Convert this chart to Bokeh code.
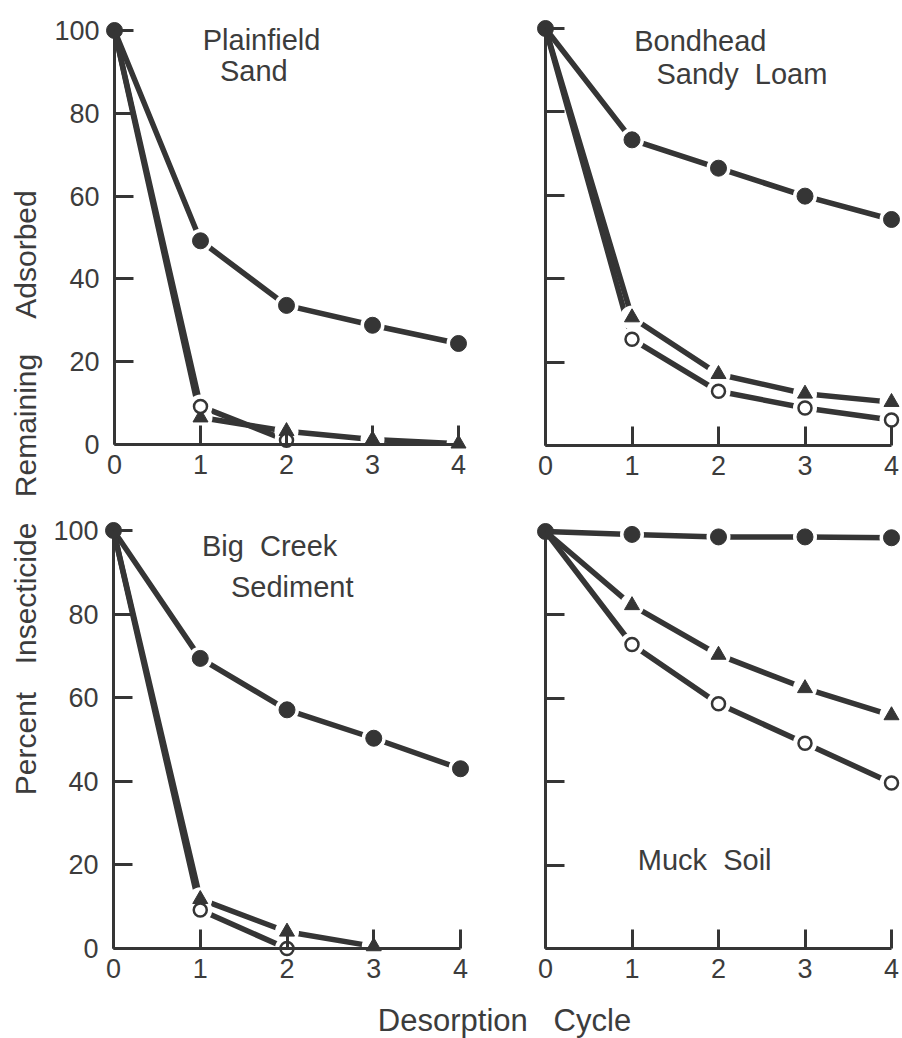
import math
from bokeh.plotting import figure
from bokeh.models import Range1d, FixedTicker, LinearAxis
from bokeh.core.properties import value
from bokeh.embed import file_html
from bokeh.resources import INLINE

NAN = float("nan")

# ---------------- data ----------------
cycles = [0, 1, 2, 3, 4]
x_tick_labels = ["0", "1", "2", "3", "4"]
y_ticks = [0, 20, 40, 60, 80, 100]
y_tick_labels = ["0", "20", "40", "60", "80", "100"]

plainfield_filled = [100, 49.2, 33.6, 28.8, 24.4]
plainfield_triangle = [100, 6.5, 3.2, 1.2, 0.2]
plainfield_open = [100, 9.2, 1.0, NAN, NAN]

bondhead_filled = [100, 73.3, 66.5, 59.8, 54.2]
bondhead_triangle = [100, 30.7, 17.1, 12.4, 10.4]
bondhead_open = [100, 25.5, 13.0, 9.0, 6.1]

bigcreek_filled = [100, 69.4, 57.1, 50.3, 43.0]
bigcreek_triangle = [100, 11.8, 4.0, 0.5, NAN]
bigcreek_open = [100, 9.2, 0.0, NAN, NAN]

muck_filled = [100, 99.3, 98.7, 98.7, 98.5]
muck_triangle = [100, 82.3, 70.4, 62.4, 55.9]
muck_open = [100, 72.9, 58.7, 49.2, 39.7]

y_title_words = ["Adsorbed", "Remaining", "Insecticide", "Percent"]
x_title = "Desorption\u00a0\u00a0\u00a0Cycle"

INK = "#353535"
TXT = "#3c3c3c"
FONT = value("Liberation Sans")

W, H = 902, 1038

# one canvas; every panel gets its own pair of ranges
p = figure(width=W, height=H, x_range=Range1d(0, W), y_range=Range1d(0, H),
           x_axis_type=None, y_axis_type=None, toolbar_location=None,
           output_backend="svg", title=None,
           min_border_left=0, min_border_right=0, min_border_top=0, min_border_bottom=0)
p.grid.visible = False
p.outline_line_color = None
p.background_fill_color = "white"
p.border_fill_color = "white"


def panel(name, x0, x4, y0, y100, filled, tri, opn, titles, show_y_labels):
    # pixel placement of the panel: data x=0 at x0, x=4 at x4; y=0 at y0, y=100 at y100
    sx = (x4 - x0) / 4.0
    sy = (y0 - y100) / 100.0
    p.extra_x_ranges[name] = Range1d(-x0 / sx, (W - x0) / sx)
    p.extra_y_ranges[name] = Range1d((y0 - H) / sy, y0 / sy)
    rn = dict(x_range_name=name, y_range_name=name)

    common = dict(axis_line_color=INK, axis_line_width=3,
                  major_tick_line_color=INK, major_tick_line_width=3,
                  major_tick_in=19, major_tick_out=0, minor_tick_line_color=None,
                  major_label_text_font="Liberation Sans",
                  major_label_text_font_size="27px",
                  major_label_text_color=TXT, fixed_location=0)
    xa = LinearAxis(ticker=FixedTicker(ticks=cycles), bounds=(0, 4),
                    major_label_overrides={c: l for c, l in zip(cycles, x_tick_labels)},
                    major_label_standoff=10, **rn, **common)
    ylabels = y_tick_labels if show_y_labels else [""] * len(y_ticks)
    ya = LinearAxis(ticker=FixedTicker(ticks=y_ticks), bounds=(0, 100),
                    major_label_overrides={t: l for t, l in zip(y_ticks, ylabels)},
                    major_label_standoff=15, **rn, **common)
    p.add_layout(xa, "below")
    p.add_layout(ya, "left")

    series = [filled, tri, opn]
    for s in series:
        p.line(cycles, s, line_color=INK, line_width=5.5, line_cap="round", **rn)
    # white halos leave the small gaps round each plotted point
    for s in series:
        p.scatter(cycles[1:], s[1:], marker="circle", size=24,
                  fill_color="white", line_color=None, **rn)
    p.scatter(cycles[1:], tri[1:], marker="triangle", size=15,
              fill_color=INK, line_color=INK, line_width=1, **rn)
    p.scatter(cycles[1:], opn[1:], marker="circle", size=13,
              fill_color="white", line_color=INK, line_width=2.5, **rn)
    p.scatter(cycles, filled, marker="circle", size=16,
              fill_color=INK, line_color=INK, **rn)

    tx, ty, tt = titles
    p.text(x=tx, y=ty, text=tt, text_font=FONT, text_font_size="29px",
           text_color=TXT, text_align="center", text_baseline="middle", **rn)


panel("tl", 114, 458, 444, 30,
      plainfield_filled, plainfield_triangle, plainfield_open,
      ([1.71, 1.62], [97.8, 90.2], ["Plainfield", "Sand"]), True)
panel("tr", 545, 891, 445, 28,
      bondhead_filled, bondhead_triangle, bondhead_open,
      ([1.79, 2.27], [97.1, 89.0], ["Bondhead", "Sandy\u00a0\u00a0Loam"]), False)
panel("bl", 113, 460, 948, 530,
      bigcreek_filled, bigcreek_triangle, bigcreek_open,
      ([1.80, 2.06], [96.4, 86.6], ["Big\u00a0\u00a0Creek", "Sediment"]), True)
panel("br", 545, 891, 948, 531,
      muck_filled, muck_triangle, muck_open,
      ([1.84], [21.3], ["Muck\u00a0\u00a0Soil"]), False)

# shared axis titles (canvas pixel coordinates, y measured from the bottom)
p.text(x=[25] * 4, y=[H - 254, H - 425, H - 593, H - 743], text=y_title_words,
       angle=math.pi / 2, text_font=FONT, text_font_size="30px", text_color=TXT,
       text_align="center", text_baseline="middle")
p.text(x=[504], y=[H - 1020], text=[x_title], text_font=FONT, text_font_size="31px",
       text_color=TXT, text_align="center", text_baseline="middle")

open("out.html", "w").write(file_html(p, INLINE))
